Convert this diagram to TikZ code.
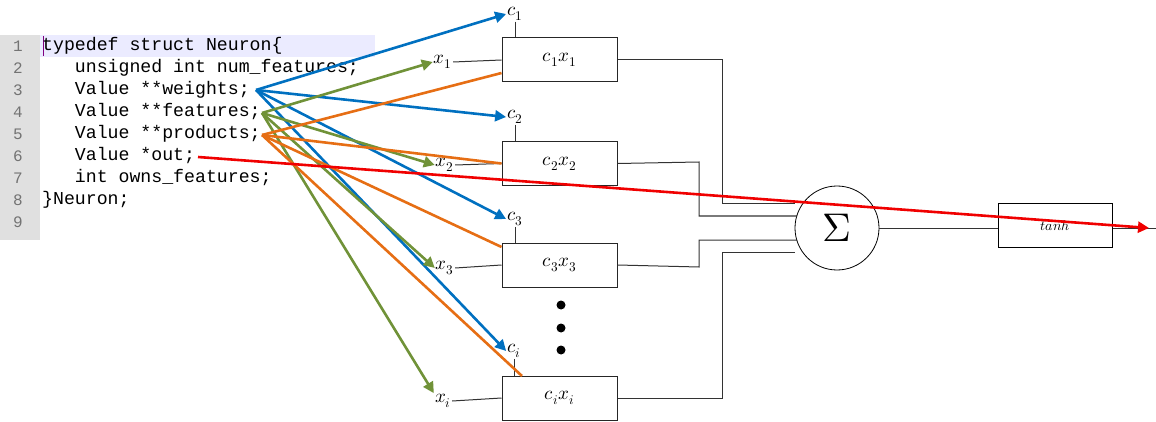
\documentclass[tikz,border=0pt]{standalone}
\usepackage{unicode-math}
\setmathfont{Latin Modern Math}
\setmonofont{Liberation Mono}
\usetikzlibrary{arrows.meta}
\definecolor{cblue}{RGB}{0,112,192}
\definecolor{cgreen}{RGB}{112,146,56}
\definecolor{corange}{RGB}{230,110,20}
\definecolor{cred}{RGB}{240,0,0}
\begin{document}
\begin{tikzpicture}[x=1pt,y=-1pt,
 box/.style={draw=black!85,line width=1pt,minimum width=115pt,minimum height=44pt,inner sep=0pt,font=\fontsize{19}{19}\selectfont},
 lbl/.style={inner sep=1pt,font=\fontsize{19}{19}\selectfont},
 wire/.style={draw=black!80,line width=1pt},
 code/.style={anchor=west,inner sep=0pt,font=\fontsize{18.2}{18}\ttfamily},
 num/.style={anchor=center,inner sep=0pt,text=black!55,font=\fontsize{16}{18}\ttfamily},
 arr/.style={line width=2.6pt,-{Triangle[length=11pt,width=11pt]}},
 ln/.style={line width=2.6pt}]
\useasboundingbox (0,0) rectangle (1156,422);
\fill[black!12] (0,35) rectangle (40,240);
\fill[blue!8] (40,35) rectangle (375,57);
\draw[violet,line width=0.8pt] (43,36)--(43,56);
\foreach \i/\t in {1/typedef struct Neuron\{,2/{\ \ \ unsigned int num\_features;},3/{\ \ \ Value **weights;},4/{\ \ \ Value **features;},5/{\ \ \ Value **products;},6/{\ \ \ Value *out;},7/{\ \ \ int owns\_features;},8/\}Neuron;}{
 \node[code] (code\i) at (42,{24+22*\i}) {\t};}
\foreach \i in {1,...,9}{\node[num] (n\i) at (18,{24+22*\i}) {\i};}
\coordinate (w) at (256,90);
\coordinate (f) at (262,113);
\coordinate (p) at (262,135);
\coordinate (o) at (198,157);
% boxes
\node[box] (b1) at (559.5,60) {$c_1x_1$};
\node[box] (b2) at (559.5,163.5) {$c_2x_2$};
\node[box] (b3) at (559.5,265) {$c_3x_3$};
\node[box] (bi) at (559.5,398) {$c_ix_i$};
\node[lbl] (c1) at (515,14) {$c_1$};
\node[lbl] (c2) at (515,117) {$c_2$};
\node[lbl] (c3) at (515,219) {$c_3$};
\node[lbl] (ci) at (514,351) {$c_i$};
\node[lbl] (x1) at (443,62) {$x_1$};
\node[lbl] (x2) at (445,165) {$x_2$};
\node[lbl] (x3) at (445,268) {$x_3$};
\node[lbl] (xi) at (443,401) {$x_i$};
\foreach \a/\b in {c1/b1,c2/b2,c3/b3,ci/bi}{\draw[wire] (\a.south) -- (\a.south |- \b.north);}
\foreach \a/\b in {x1/b1,x2/b2,x3/b3,xi/bi}{\draw[wire] (\a.east) -- (\b.west);}
\foreach \y in {305,328,350}{\fill (561,\y) circle (4.5pt);}
\node[draw,circle,line width=0.8pt,minimum size=84pt,inner sep=0pt,font=\fontsize{40}{40}\selectfont] (s) at (837,228) {$\Sigma$};
\node[draw,line width=1pt,minimum width=114pt,minimum height=43pt,font=\fontsize{14}{14}\selectfont] (t) at (1055,225.5) {$tanh$};
\coordinate (end) at (1156,228);
\draw[wire] (b1.east) -- (722,60) -- (722,204) -- (s.west |- 0,204);
\draw[wire] (b2.east) -- (699,162) -- (699,216) -- (797,216);
\draw[wire] (b3.east) -- (699,267) -- (699,240) -- (797,240);
\draw[wire] (bi.east) -- (722,398) -- (722,252) -- (s.west |- 0,252);
\draw[wire] (s.east) -- (t.west |- s.east);
\draw[wire] (t.east |- end) -- (end);
% arrows
\draw[arr,cblue] (w) -- (c1.west);
\draw[arr,cblue] (w) -- (c2.west);
\draw[arr,cblue] (w) -- (c3.west);
\draw[arr,cblue] (w) -- (ci.west);
\draw[arr,cgreen] (f) -- (x1.west);
\draw[arr,cgreen] (f) -- (x2.west);
\draw[arr,cgreen] (f) -- (x3.west);
\draw[arr,cgreen] (f) -- (xi.north west);
\draw[ln,corange] (p) -- (b1.west |- 0,73);
\draw[ln,corange] (p) -- (b2.west);
\draw[ln,corange] (p) -- (b3.west |- 0,247);
\draw[ln,corange] (p) -- (522,376);
\draw[arr,cred] (o) -- (1149,228);
\end{tikzpicture}
\end{document}
